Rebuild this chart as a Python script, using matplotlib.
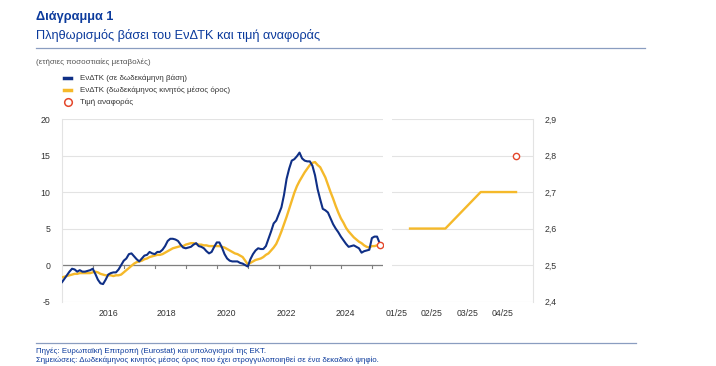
import numpy as np
import matplotlib
matplotlib.use("Agg")
import matplotlib.pyplot as plt

plt.rcParams['font.family'] = ['Liberation Sans', 'DejaVu Sans']

# monthly data, Jan 2015 - Apr 2025
hicp = [-2.4, -1.9, -1.4, -0.9, -0.5, -0.6, -0.9, -0.7, -0.9, -0.9, -0.8, -0.7,
        -0.5, -1.2, -2.0, -2.5, -2.6, -2.0, -1.3, -1.1, -1.0, -1.0, -0.6, 0.0,
        0.6, 0.9, 1.5, 1.6, 1.2, 0.8, 0.5, 0.9, 1.3, 1.4, 1.8, 1.6,
        1.5, 1.8, 1.8, 2.1, 2.6, 3.3, 3.6, 3.6, 3.5, 3.3, 2.8, 2.4,
        2.3, 2.4, 2.5, 2.8, 3.0, 2.6, 2.5, 2.3, 1.9, 1.6, 1.8, 2.5,
        3.1, 3.1, 2.4, 1.5, 0.9, 0.6, 0.5, 0.5, 0.5, 0.3, 0.2, 0.0,
        -0.2, 0.8, 1.5, 2.0, 2.3, 2.2, 2.2, 2.6, 3.6, 4.6, 5.7, 6.1,
        7.0, 7.9, 9.6, 11.8, 13.2, 14.3, 14.5, 14.9, 15.4, 14.6, 14.3, 14.2,
        14.2, 13.6, 12.3, 10.4, 9.0, 7.7, 7.5, 7.2, 6.4, 5.6, 5.0, 4.5,
        3.9, 3.4, 2.9, 2.5, 2.6, 2.7, 2.5, 2.3, 1.7, 1.9, 2.0, 2.1,
        3.7, 3.9, 3.9, 3.0]
hicp_avg = [-1.7, -1.6, -1.5, -1.4, -1.3, -1.2, -1.2, -1.1, -1.1, -1.1, -1.1, -1.1,
            -1.0, -0.9, -1.0, -1.2, -1.3, -1.4, -1.4, -1.4, -1.5, -1.4, -1.4, -1.3,
            -1.0, -0.7, -0.4, -0.1, 0.2, 0.4, 0.5, 0.6, 0.8, 0.9, 1.1, 1.2,
            1.3, 1.4, 1.4, 1.5, 1.7, 1.9, 2.1, 2.3, 2.4, 2.5, 2.6, 2.6,
            2.8, 2.9, 3.0, 3.0, 2.9, 2.8, 2.8, 2.7, 2.7, 2.6, 2.6, 2.6,
            2.6, 2.6, 2.5, 2.4, 2.2, 2.0, 1.8, 1.6, 1.5, 1.3, 1.1, 0.6,
            0.1, 0.3, 0.5, 0.7, 0.8, 0.9, 1.1, 1.4, 1.6, 2.0, 2.4, 2.9,
            3.7, 4.6, 5.6, 6.6, 7.7, 8.8, 9.9, 10.8, 11.5, 12.1, 12.7, 13.2,
            13.7, 14.0, 14.1, 13.7, 13.4, 12.7, 12.0, 11.0, 10.0, 9.1, 8.1, 7.2,
            6.4, 5.8, 5.1, 4.6, 4.2, 3.8, 3.5, 3.2, 3.0, 2.7, 2.5, 2.4,
            2.6, 2.6, 2.7, 2.7]
ref_value = 2.8

year_labels = ['2016', '2018', '2020', '2022', '2024']

months_2025 = ['01/25', '02/25', '03/25', '04/25']
avg_2025 = [2.6, 2.6, 2.7, 2.7]
ref_2025 = [np.nan, np.nan, np.nan, 2.8]

BLUE = '#0f2f86'
YELLOW = '#f5b92a'
RED = '#e4472b'
TXT = '#0b3a9c'
GRID = '#e3e3e3'

fig = plt.figure(figsize=(7.16, 3.66), dpi=100)
W, H = 716, 366


def fx(px):
    return px / W


def fy(py):
    return 1 - py / H


# header
fig.text(fx(36), fy(17), 'Διάγραμμα 1', fontsize=9.2, fontweight='bold',
         color=TXT, va='center', ha='left')
fig.text(fx(36), fy(36), 'Πληθωρισμός βάσει του ΕνΔΤΚ και τιμή αναφοράς',
         fontsize=9.2, color=TXT, va='center', ha='left')
fig.add_artist(plt.Line2D([fx(36), fx(645)], [fy(48), fy(48)],
                          color='#8a9dc0', lw=0.9))
fig.text(fx(36), fy(62), '(ετήσιες ποσοστιαίες μεταβολές)', fontsize=5.8,
         color='#555555', va='center', ha='left')

# legend
leg_items = [('ΕνΔΤΚ (σε δωδεκάμηνη βάση)', BLUE, 'line'),
             ('ΕνΔΤΚ (δωδεκάμηνος κινητός μέσος όρος)', YELLOW, 'line'),
             ('Τιμή αναφοράς', RED, 'circle')]
for i, (lab, col, kind) in enumerate(leg_items):
    yy = fy(78 + 12 * i)
    if kind == 'line':
        fig.add_artist(plt.Line2D([fx(64), fx(71)], [yy, yy], color=col, lw=2.5))
    else:
        fig.add_artist(plt.Line2D([fx(67.5)], [yy], marker='o', ms=5.5, mfc='white',
                                  mec=col, mew=1.1, ls='none'))
    fig.text(fx(80), yy, lab, fontsize=5.7, color='#333333', va='center', ha='left')

# left panel
ax = fig.add_axes([fx(61.7), fy(301.6), fx(383 - 61.7), (301.6 - 119) / H])
x = np.arange(len(hicp))
ax.axhline(0, color='#7f7f7f', lw=0.9, zorder=1)
ax.plot(x, hicp_avg, color=YELLOW, lw=1.7, zorder=3, solid_capstyle='round')
ax.plot(x, hicp, color=BLUE, lw=1.5, zorder=4, solid_capstyle='round')
ax.plot(x[-1], ref_value, 'o', ms=4.5, mfc='white', mec=RED, mew=1.0, zorder=5)
ax.set_xlim(0, 124.3)
ax.set_ylim(-5, 20)
ax.set_yticks([-5, 0, 5, 10, 15, 20])
ax.set_yticklabels(['-5', '0', '5', '10', '15', '20'])
ax.yaxis.grid(True, color=GRID, lw=0.8)
ax.set_axisbelow(True)
ax.set_xticks([17.9, 40.4, 63.8, 87.0, 109.9])
ax.set_xticklabels(year_labels)
ax.tick_params(axis='x', length=0, pad=5, labelsize=6.3, colors='#333333')
ax.tick_params(axis='y', length=0, pad=8, labelsize=6.3, colors='#333333')
for s in ['top', 'right', 'bottom']:
    ax.spines[s].set_visible(False)
ax.spines['left'].set_color(GRID)
# year tick marks on zero line
for m in range(12, len(hicp), 12):
    ax.plot([m, m], [0, -0.35], color='#7f7f7f', lw=0.8, zorder=1)

# right panel
ax2 = fig.add_axes([fx(392), fy(301.6), fx(533 - 392), (301.6 - 119) / H])
xi = np.arange(len(months_2025))
ax2.plot(xi, avg_2025, color=YELLOW, lw=1.7, zorder=3)
ax2.plot(xi, ref_2025, 'o', ms=4.5, mfc='white', mec=RED, mew=1.0, zorder=5)
ax2.set_xlim(-0.51, 3.48)
ax2.set_ylim(2.4, 2.9)
ax2.set_yticks([2.4, 2.5, 2.6, 2.7, 2.8, 2.9])
ax2.set_yticklabels(['2,4', '2,5', '2,6', '2,7', '2,8', '2,9'])
ax2.yaxis.tick_right()
ax2.yaxis.grid(True, color=GRID, lw=0.8)
ax2.set_axisbelow(True)
ax2.set_xticks(xi - 0.38)
ax2.set_xticklabels(months_2025)
ax2.tick_params(axis='x', length=0, pad=5, labelsize=6.3, colors='#333333')
ax2.tick_params(axis='y', length=0, pad=8, labelsize=6.3, colors='#333333')
for s in ['top', 'left', 'bottom']:
    ax2.spines[s].set_visible(False)
ax2.spines['right'].set_color(GRID)

# footer
fig.add_artist(plt.Line2D([fx(36), fx(636)], [fy(343), fy(343)],
                          color='#8a9dc0', lw=0.9))
fig.text(fx(36), fy(351), 'Πηγές: Ευρωπαϊκή Επιτροπή (Eurostat) και υπολογισμοί της ΕΚΤ.',
         fontsize=5.7, color=TXT, va='center', ha='left')
fig.text(fx(36), fy(360.5),
         'Σημειώσεις: Δωδεκάμηνος κινητός μέσος όρος που έχει στρογγυλοποιηθεί σε ένα δεκαδικό ψηφίο.',
         fontsize=5.7, color=TXT, va='center', ha='left')

fig.savefig('out.png', dpi=100, facecolor='white')
